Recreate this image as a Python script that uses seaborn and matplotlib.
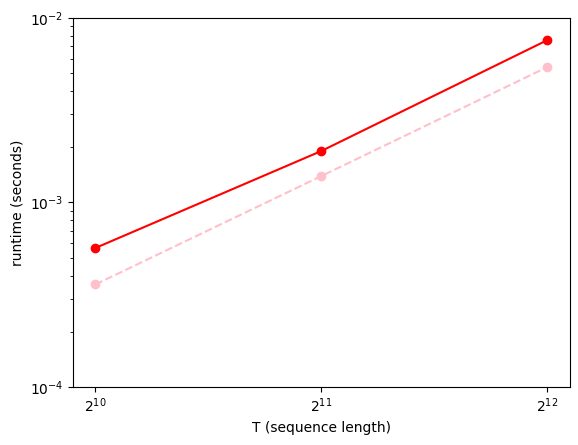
import numpy as np
import pandas as pd
import matplotlib
matplotlib.use("Agg")
import matplotlib.pyplot as plt
import seaborn as sns

seq_len = [2**10, 2**11, 2**12]
runtime_a = [5.67e-4, 1.90e-3, 7.57e-3]
runtime_b = [3.60e-4, 1.39e-3, 5.41e-3]

fig, ax = plt.subplots(figsize=(5.78, 4.45), dpi=100)
fig.subplots_adjust(left=0.126, right=0.986, top=0.96, bottom=0.13)

sns.lineplot(x=seq_len, y=runtime_a, ax=ax, color="red", marker="o",
             markersize=6, markeredgecolor="red", markeredgewidth=1)
sns.lineplot(x=seq_len, y=runtime_b, ax=ax, color="pink", marker="o",
             markersize=6, markeredgecolor="pink", markeredgewidth=1,
             linestyle="--")

ax.set_xscale("log", base=2)
ax.set_yscale("log")
ax.set_ylim(1e-4, 1e-2)
ax.set_xticks(seq_len)
ax.set_xlabel("T (sequence length)")
ax.set_ylabel("runtime (seconds)")

plt.savefig("out.png", dpi=100)
